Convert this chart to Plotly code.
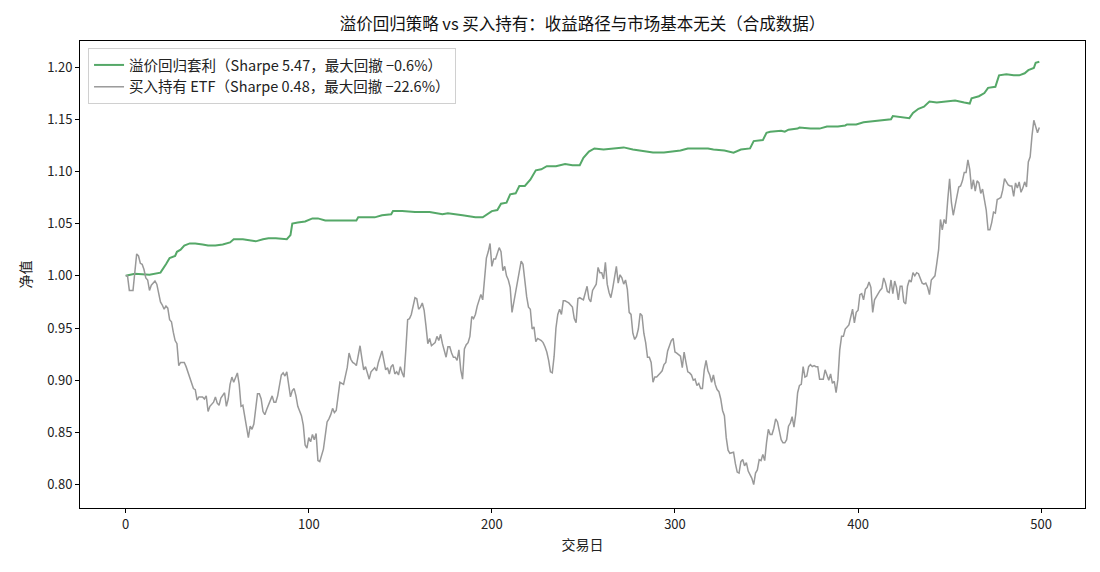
import plotly.graph_objects as go

# ---- data ----
etf_day = [0, 1, 2, 4, 6, 7, 8, 9, 10, 11, 12, 13, 14, 15, 16, 17, 18, 19, 20, 21, 22, 23, 24, 25, 26, 27, 28, 29, 30, 32,
           33, 34, 35, 36, 37, 38, 39, 40, 42, 43, 44, 45, 46, 48, 49, 50, 51, 52, 54, 55, 56, 57, 58, 59, 61, 62,
           63, 64, 65, 66, 67, 68, 69, 70, 71, 72, 73, 74, 75, 76, 77, 78, 80, 81, 82, 83, 84, 85, 86, 87, 88, 89,
           90, 91, 92, 93, 94, 96, 97, 98, 99, 100, 101, 102, 103, 104, 105, 106, 108, 109, 110, 111, 112, 113, 114,
           115, 116, 117, 119, 120, 121, 122, 123, 124, 125, 126, 128, 129, 130, 131, 132, 133, 134, 135, 136, 137,
           138, 140, 141, 142, 143, 144, 145, 146, 147, 148, 149, 150, 151, 152, 153, 154, 155, 156, 158, 159, 160,
           161, 162, 163, 164, 165, 166, 167, 169, 170, 171, 172, 173, 174, 175, 176, 177, 178, 179, 180, 181, 182,
           183, 184, 185, 186, 187, 188, 189, 190, 191, 192, 193, 194, 195, 196, 197, 198, 199, 200, 201, 202, 203,
           204, 205, 206, 207, 208, 209, 210, 211, 212, 213, 214, 216, 217, 218, 219, 220, 221, 222, 223, 224, 225,
           227, 228, 229, 230, 231, 232, 233, 234, 235, 236, 237, 238, 239, 240, 241, 242, 243, 244, 245, 246, 247,
           248, 250, 251, 252, 253, 254, 255, 256, 257, 258, 259, 260, 261, 262, 263, 264, 265, 266, 267, 268, 269,
           270, 271, 272, 273, 274, 275, 276, 277, 278, 279, 280, 281, 282, 283, 284, 285, 286, 287, 288, 289, 290,
           292, 293, 294, 295, 296, 297, 298, 299, 300, 301, 302, 303, 304, 305, 306, 307, 308, 309, 310, 311, 312,
           313, 314, 315, 316, 317, 318, 319, 320, 321, 322, 323, 324, 325, 326, 327, 328, 329, 330, 332, 333, 334,
           335, 336, 337, 338, 339, 340, 342, 343, 344, 345, 346, 347, 348, 349, 350, 351, 352, 353, 354, 355, 356,
           358, 359, 360, 361, 362, 363, 364, 365, 366, 367, 368, 369, 370, 371, 372, 373, 374, 375, 376, 377, 378,
           379, 381, 382, 383, 384, 385, 386, 387, 388, 389, 390, 391, 392, 393, 394, 395, 397, 398, 399, 400, 401,
           402, 403, 404, 405, 406, 407, 408, 409, 411, 412, 413, 414, 415, 416, 417, 418, 419, 420, 421, 422, 423,
           424, 425, 426, 427, 428, 429, 430, 431, 432, 433, 434, 435, 436, 437, 438, 439, 440, 442, 443, 444, 445,
           446, 447, 448, 449, 450, 451, 452, 453, 454, 455, 456, 457, 458, 459, 460, 461, 462, 463, 464, 465, 466,
           467, 468, 469, 470, 471, 472, 473, 474, 475, 476, 477, 478, 479, 480, 481, 482, 483, 484, 485, 486, 487,
           488, 489, 490, 491, 492, 493, 494, 495, 496, 497, 498, 499]
etf_nav = [1.000, 1.000, 0.986, 0.986, 1.021, 1.019, 1.012, 1.011, 1.006, 0.998, 0.996, 0.986, 0.991, 0.993, 0.995,
           0.992, 0.984, 0.975, 0.972, 0.968, 0.971, 0.969, 0.958, 0.956, 0.946, 0.938, 0.935, 0.914, 0.917, 0.917,
           0.913, 0.908, 0.901, 0.898, 0.892, 0.891, 0.881, 0.884, 0.884, 0.882, 0.885, 0.870, 0.875, 0.879, 0.884,
           0.878, 0.876, 0.883, 0.888, 0.875, 0.882, 0.896, 0.903, 0.898, 0.907, 0.896,
           0.875, 0.876, 0.866, 0.853, 0.845, 0.856, 0.853, 0.858, 0.875, 0.887, 0.887, 0.882, 0.870, 0.867, 0.872,
           0.876, 0.885, 0.879, 0.879, 0.885, 0.896, 0.905, 0.907, 0.904, 0.908, 0.896,
           0.884, 0.890, 0.892, 0.885, 0.875, 0.866, 0.857, 0.838, 0.835, 0.845, 0.841, 0.848, 0.843, 0.849, 0.823,
           0.822, 0.834, 0.847, 0.860, 0.863, 0.867, 0.873, 0.869,
           0.871, 0.885, 0.898, 0.896, 0.903, 0.912, 0.926, 0.920, 0.917, 0.916, 0.914, 0.933, 0.921, 0.910, 0.913,
           0.908, 0.901, 0.908, 0.910, 0.912, 0.909,
           0.917, 0.928, 0.919, 0.910, 0.912, 0.906, 0.913, 0.915, 0.906, 0.908, 0.905, 0.913, 0.907, 0.903, 0.929,
           0.958, 0.959, 0.963, 0.979, 0.978, 0.968,
           0.970, 0.974, 0.967, 0.952, 0.935, 0.940, 0.933, 0.936, 0.942, 0.938, 0.944, 0.935, 0.929, 0.922, 0.932,
           0.932, 0.926, 0.922, 0.922, 0.919, 0.929,
           0.910, 0.901, 0.930, 0.934, 0.936, 0.942, 0.961, 0.959, 0.963, 0.971, 0.977, 0.982, 0.977, 0.996, 1.017,
           1.023, 1.031, 1.009, 1.016, 1.016, 1.022,
           1.027, 1.023, 1.005, 1.009, 1.000, 0.996, 0.989, 0.965, 0.975, 0.982, 0.992, 1.014, 1.011, 0.994, 0.980,
           0.970, 0.968, 0.949, 0.951, 0.937, 0.940,
           0.938, 0.936, 0.932, 0.927, 0.919, 0.908, 0.907, 0.923, 0.950, 0.963, 0.968, 0.963, 0.976, 0.976, 0.975,
           0.974, 0.972, 0.970, 0.959, 0.955, 0.978,
           0.979, 0.977, 0.983, 0.990, 0.978, 0.975, 0.986, 0.989, 0.992, 1.008, 1.003, 1.003, 0.997, 1.013, 0.992,
           0.984, 0.979, 0.988, 0.999, 1.009, 0.993,
           1.001, 0.998, 0.992, 0.996, 0.987, 0.965, 0.963, 0.945, 0.939, 0.942, 0.949, 0.964, 0.962, 0.945, 0.936,
           0.922, 0.922, 0.917, 0.898, 0.903, 0.903,
           0.907, 0.909, 0.915, 0.917, 0.928, 0.933, 0.938, 0.940, 0.927, 0.926, 0.924, 0.923, 0.912, 0.927, 0.917,
           0.908, 0.907, 0.905, 0.900, 0.901, 0.895,
           0.897, 0.892, 0.892, 0.910, 0.919, 0.909, 0.905, 0.898, 0.905, 0.896, 0.891, 0.889, 0.882, 0.871, 0.866,
           0.845, 0.833, 0.830, 0.831, 0.820, 0.812,
           0.811, 0.822, 0.824, 0.818, 0.821, 0.813, 0.806, 0.800, 0.811, 0.814, 0.824, 0.823, 0.829, 0.823, 0.840,
           0.853, 0.848, 0.848, 0.854, 0.863, 0.860,
           0.843, 0.840, 0.840, 0.843, 0.856, 0.859, 0.865, 0.855, 0.868, 0.888, 0.895, 0.896, 0.913, 0.903, 0.904,
           0.913, 0.915, 0.913, 0.914, 0.913, 0.913,
           0.901, 0.901, 0.910, 0.904, 0.900, 0.906, 0.897, 0.899, 0.888, 0.901, 0.929, 0.942, 0.942, 0.949, 0.951,
           0.953, 0.968, 0.955, 0.965, 0.967, 0.982,
           0.983, 0.977, 0.987, 0.989, 0.994, 0.989, 0.965, 0.977, 0.984, 0.986, 0.988, 0.998, 0.993, 0.985, 0.984,
           0.996, 0.983, 0.995, 0.989, 0.977, 0.990,
           0.990, 0.975, 0.973, 0.990, 0.996, 0.994, 1.003, 1.000, 1.003, 1.002, 0.998, 0.993, 0.992, 0.993, 0.989,
           0.982, 0.996, 1.000, 1.012, 1.025, 1.054,
           1.044, 1.054, 1.050, 1.073, 1.093, 1.070, 1.058, 1.067, 1.077, 1.085, 1.086, 1.091, 1.099, 1.099, 1.111,
           1.102, 1.083, 1.092, 1.081, 1.091, 1.089,
           1.079, 1.083, 1.073, 1.063, 1.044, 1.044, 1.051, 1.061, 1.060, 1.073, 1.074, 1.075, 1.082, 1.093, 1.090,
           1.087, 1.086, 1.086, 1.076, 1.089, 1.084,
           1.090, 1.080, 1.084, 1.090, 1.085, 1.109, 1.114, 1.134, 1.149, 1.143, 1.137, 1.142]

arb_day = [0, 5, 13, 18, 19, 22, 24, 27, 28, 30, 32, 35, 38, 42, 45, 49, 53, 57, 59, 64, 71, 75, 78, 82, 88, 90, 91,
           94, 98, 102, 105, 109, 115, 120, 126, 127, 131, 136, 140, 145, 146, 151, 158, 166, 173, 176, 184, 191, 195,
           198, 200, 203, 205, 208, 210, 213, 215, 218, 221, 224, 227, 230, 235, 240, 244, 248, 250, 253, 256, 261,
           267, 272, 277, 283, 288, 294, 299, 303, 307, 312, 318, 321, 327, 332, 336, 341, 343, 348, 350, 352, 358,
           360, 362, 367, 368, 374, 379, 383, 389, 393, 394, 399, 403, 408, 412, 418, 419, 423, 428, 430, 433, 436,
           439, 443, 449, 453, 458, 461, 462, 466, 469, 471, 475, 477, 481, 485, 488, 491, 493, 496, 497, 499]
arb_nav = [1.000, 1.002, 1.001, 1.003, 1.003, 1.011, 1.017, 1.019, 1.023, 1.025, 1.029, 1.031, 1.031, 1.030, 1.029,
           1.029, 1.030, 1.032, 1.035, 1.035, 1.033, 1.035, 1.036, 1.036, 1.035, 1.039, 1.050, 1.051, 1.052, 1.055,
           1.055, 1.053, 1.053, 1.053, 1.053, 1.056, 1.056, 1.056, 1.058, 1.059, 1.062, 1.062, 1.061, 1.061, 1.059,
           1.060, 1.058, 1.056, 1.056, 1.060, 1.062, 1.063, 1.069, 1.070, 1.078, 1.079, 1.086, 1.086, 1.092, 1.101,
           1.102, 1.105, 1.105, 1.107, 1.106, 1.106, 1.113, 1.119, 1.122, 1.121, 1.122, 1.123, 1.121, 1.119, 1.118,
           1.118, 1.119, 1.120, 1.122, 1.122, 1.122, 1.121, 1.120, 1.118, 1.121, 1.122, 1.129, 1.130, 1.137, 1.138,
           1.139, 1.138, 1.140, 1.141, 1.142, 1.141, 1.141, 1.143, 1.143, 1.144, 1.145, 1.145, 1.147, 1.148, 1.149,
           1.150, 1.153, 1.152, 1.151, 1.156, 1.160, 1.162, 1.167, 1.166, 1.167, 1.168, 1.166, 1.165, 1.170, 1.172,
           1.175, 1.180, 1.181, 1.192, 1.193, 1.192, 1.192, 1.194, 1.197, 1.199, 1.204, 1.205]

arb_name = "溢价回归套利（Sharpe 5.47，最大回撤 −0.6%）"
etf_name = "买入持有 ETF（Sharpe 0.48，最大回撤 −22.6%）"
title_text = "溢价回归策略 vs 买入持有：收益路径与市场基本无关（合成数据）"
x_ticks = [0, 100, 200, 300, 400, 500]
y_ticks = [0.80, 0.85, 0.90, 0.95, 1.00, 1.05, 1.10, 1.15, 1.20]

FONT = "Noto Sans CJK SC, Noto Sans, sans-serif"

fig = go.Figure()
fig.add_trace(go.Scatter(x=arb_day, y=arb_nav, mode="lines", name=arb_name,
                         line=dict(color="#55a868", width=2)))
fig.add_trace(go.Scatter(x=etf_day, y=etf_nav, mode="lines", name=etf_name,
                         line=dict(color="#999999", width=1.5)))

axis_common = dict(showline=True, linecolor="black", linewidth=1, mirror=True,
                   ticks="outside", ticklen=4, tickcolor="black", showgrid=False,
                   zeroline=False, tickfont=dict(size=13, color="#222"))

fig.update_layout(
    width=1100, height=572,
    margin=dict(l=80, r=15, t=41, b=64),
    paper_bgcolor="white", plot_bgcolor="white",
    font=dict(family=FONT, color="#222"),
    title=dict(text=title_text, x=0.5, xanchor="center", xref="paper",
               y=1 - 24 / 572, yanchor="middle", font=dict(size=16.5, color="#111")),
    showlegend=True,
    legend=dict(x=0.008, y=0.985, xanchor="left", yanchor="top",
                bgcolor="rgba(255,255,255,0.85)", bordercolor="#d0d0d0", borderwidth=1,
                font=dict(size=14.5, color="#222")),
    xaxis=dict(range=[-24.95, 523.95], tickvals=x_ticks,
               title=dict(text="交易日", font=dict(size=14), standoff=8), **axis_common),
    yaxis=dict(range=[0.7776, 1.2249], tickvals=y_ticks, tickformat=".2f",
               title=dict(text="净值", font=dict(size=14), standoff=12), **axis_common),
)

fig.write_html("out.html")
